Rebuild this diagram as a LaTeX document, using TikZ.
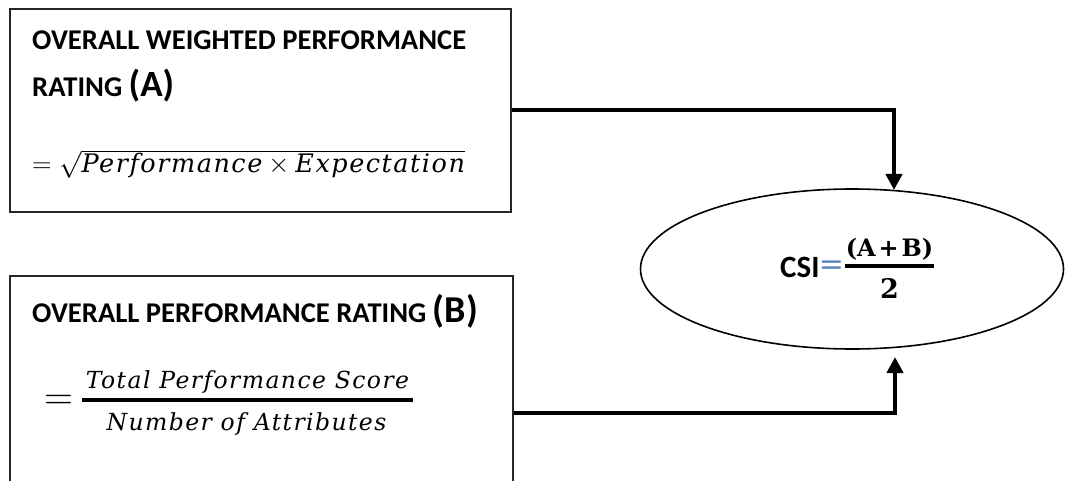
\RequirePackage{fix-cm}
\documentclass[tikz,border=0pt]{standalone}
\usepackage{amsmath}
\usepackage[no-math]{fontspec}
\setmainfont{Carlito}
\newfontfamily\formulafont{DejaVu Serif}[LetterSpace=6]
\newfontfamily\formulabold{DejaVu Serif}
\usetikzlibrary{arrows.meta,shapes.geometric}
\definecolor{eqblue}{HTML}{4F81BD}
% italic formula words at an explicit size
\newcommand{\fvar}[2]{\hbox{\fontsize{#1}{#1}\selectfont\formulafont\itshape #2}}
\tikzset{
  panel/.style={draw=black!85, line width=1.6pt, rectangle, inner sep=0pt},
  heading/.style={anchor=base west, inner sep=0pt, font=\fontsize{28.6}{32}\selectfont\bfseries},
  formula/.style={anchor=base west, inner sep=0pt},
  fracterm/.style={anchor=base, inner sep=0pt, font=\fontsize{23.5}{26}\selectfont\formulafont\itshape},
  boldterm/.style={anchor=base, inner sep=0pt, font=\fontsize{24}{26}\selectfont\formulabold\bfseries},
  fracbar/.style={line width=3.4pt},
  link/.style={line width=4pt, -{Triangle[length=16pt,width=16pt]}},
}
\begin{document}
\begin{tikzpicture}[x=1pt,y=-1pt]
\useasboundingbox (0,0) rectangle (1065,481);
\clip (0,0) rectangle (1065,481);

% the two rating panels
\node[panel, minimum width=501pt, minimum height=203pt] (boxA) at (260.5,110.5) {};
\node[panel, minimum width=503pt, minimum height=274pt] (boxB) at (261.5,413) {};

% the index ellipse
\node[draw, line width=1.6pt, ellipse, minimum width=423pt, minimum height=160pt] (csi) at (852,269) {};

% panel A texts
\node[heading] (a1) at (32,50) {OVERALL WEIGHTED PERFORMANCE};
\node[heading] (a2) at (32,97) {RATING {\fontsize{37}{40}\selectfont(A)}};
\node[formula] (a3) at (32,173)
  {\fontsize{27}{28}\selectfont$=\sqrt{\fvar{25.5}{Performance}\times\fvar{25.5}{Expectation}}$};

% panel B texts
\node[heading] (b1) at (32,322) {OVERALL PERFORMANCE RATING {\fontsize{38}{40}\selectfont(B)}};
\node[inner sep=0pt, font=\fontsize{40}{40}\selectfont] (beq) at (58.5,402) {$=$};
\node[fracterm] (bnum) at (247.5,388) {Total Performance Score};
\node[fracterm] (bden) at (246.5,430) {Number of Attributes};
\coordinate (bbarL) at (82,400);
\coordinate (bbarR) at (413,400);
\draw[fracbar] (bbarL) -- (bbarR);

% index formula
\node[anchor=base west, inner sep=0pt, font=\fontsize{31}{34}\selectfont\bfseries] (cname) at (780,277) {CSI};
\node[inner sep=0pt, text=eqblue, font=\fontsize{30}{32}\selectfont\formulabold] (ceq) at (831.5,268) {=};
\node[boldterm] (cnum) at (889.5,256) {(A\hspace{0.12em}+\hspace{0.12em}B)};
\node[boldterm, font=\fontsize{27}{30}\selectfont\formulabold\bfseries] (cden) at (889.5,298) {2};
\coordinate (cbarL) at (845,266);
\coordinate (cbarR) at (934,266);
\draw[fracbar] (cbarL) -- (cbarR);

% entry points on the ellipse
\coordinate (inA) at (894,190);
\coordinate (inB) at (895,357);

% connectors
\draw[link] (boxA.east) -| (inA);
\draw[link] (boxB.east) -| (inB);
\end{tikzpicture}
\end{document}
